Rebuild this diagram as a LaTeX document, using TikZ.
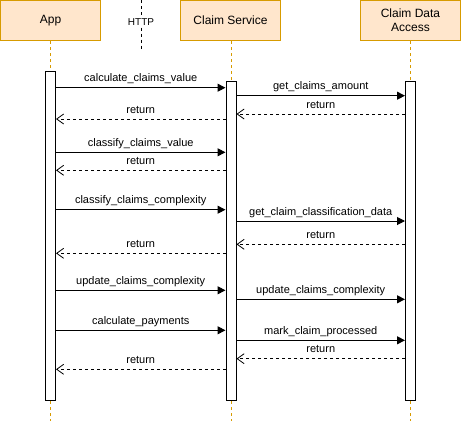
\documentclass[tikz,border=0pt]{standalone}
\usepackage{fontspec}
\setmainfont{Liberation Sans}
\usetikzlibrary{arrows.meta}
\definecolor{hdrfill}{HTML}{FFE6CC}
\definecolor{hdrline}{HTML}{D79B00}
\begin{document}
\begin{tikzpicture}[x=1pt,y=-1pt,
 participant/.style={draw=hdrline, fill=hdrfill, line width=1pt, minimum width=100pt, minimum height=40pt, inner sep=0pt, align=center, font=\fontsize{12}{14}\selectfont},
 lifeline/.style={draw=hdrline, line width=1pt, dash pattern=on 3pt off 3pt},
 activation/.style={draw=black, fill=white, line width=1pt, minimum width=10pt, inner sep=0pt, anchor=north},
 call/.style={draw=black, line width=1pt, -{Triangle[length=8pt,width=8pt]}},
 ret/.style={draw=black, line width=0.8pt, dash pattern=on 3pt off 3pt, -{Straight Barb[length=7pt,width=10pt,line width=0.8pt]}},
 msg/.style={font=\fontsize{11}{13}\selectfont, anchor=base, inner sep=0pt, midway, yshift=6pt},
 httplbl/.style={font=\fontsize{10}{12}\selectfont, inner sep=2pt},
 httpline/.style={draw=black, line width=1pt, dash pattern=on 3pt off 3pt},
]
\useasboundingbox (0,0) rectangle (461,421);

% participants
\node[participant] (app) at (50.5,20.5) {App};
\node[participant] (cs) at (230.5,20.5) {Claim Service};
\node[participant] (cda) at (410.5,20.5) {Claim Data\\Access};

% lifeline ends
\coordinate (appEnd) at (50.5,421);
\coordinate (csEnd) at (231,421);
\coordinate (cdaEnd) at (410.5,421);
\draw[lifeline] (app.south) -- (appEnd);
\draw[lifeline] (cs.south -| csEnd) -- (csEnd);
\draw[lifeline] (cda.south) -- (cdaEnd);

% HTTP boundary
\node[httplbl] (http) at (141,22) {HTTP};
\coordinate (httpTop) at (141,0);
\coordinate (httpBot) at (141,50);
\draw[httpline] (httpTop) -- (http);
\draw[httpline] (http) -- (httpBot);

% activations
\node[activation, minimum height=329pt] (appA) at (50.5,71) {};
\node[activation, minimum height=319pt] (csA) at (231,81) {};
\node[activation, minimum height=319pt] (cdaA) at (410.5,81) {};

% message levels
\foreach \n/\yy in {1/87.7,2/95.7,3/114,4/119,5/152.3,6/170.3,7/209.7,8/221,9/244.3,10/253.3,11/290.3,12/299.3,13/330.3,14/340.3,15/358.7,16/369.3}
  \coordinate (y\n) at (0,\yy);

\draw[call] (appA.east |- y1) -- (csA.west |- y1) node[msg] {calculate\_claims\_value};
\draw[call] (csA.east |- y2) -- (cdaA.west |- y2) node[msg] {get\_claims\_amount};
\draw[ret] (cdaA.west |- y3) -- (csA.east |- y3) node[msg] {return};
\draw[ret] (csA.west |- y4) -- (appA.east |- y4) node[msg] {return};
\draw[call] (appA.east |- y5) -- (csA.west |- y5) node[msg] {classify\_claims\_value};
\draw[ret] (csA.west |- y6) -- (appA.east |- y6) node[msg] {return};
\draw[call] (appA.east |- y7) -- (csA.west |- y7) node[msg] {classify\_claims\_complexity};
\draw[call] (csA.east |- y8) -- (cdaA.west |- y8) node[msg] {get\_claim\_classification\_data};
\draw[ret] (cdaA.west |- y9) -- (csA.east |- y9) node[msg] {return};
\draw[ret] (csA.west |- y10) -- (appA.east |- y10) node[msg] {return};
\draw[call] (appA.east |- y11) -- (csA.west |- y11) node[msg] {update\_claims\_complexity};
\draw[call] (csA.east |- y12) -- (cdaA.west |- y12) node[msg] {update\_claims\_complexity};
\draw[call] (appA.east |- y13) -- (csA.west |- y13) node[msg] {calculate\_payments};
\draw[call] (csA.east |- y14) -- (cdaA.west |- y14) node[msg] {mark\_claim\_processed};
\draw[ret] (cdaA.west |- y15) -- (csA.east |- y15) node[msg] {return};
\draw[ret] (csA.west |- y16) -- (appA.east |- y16) node[msg] {return};
\end{tikzpicture}
\end{document}
